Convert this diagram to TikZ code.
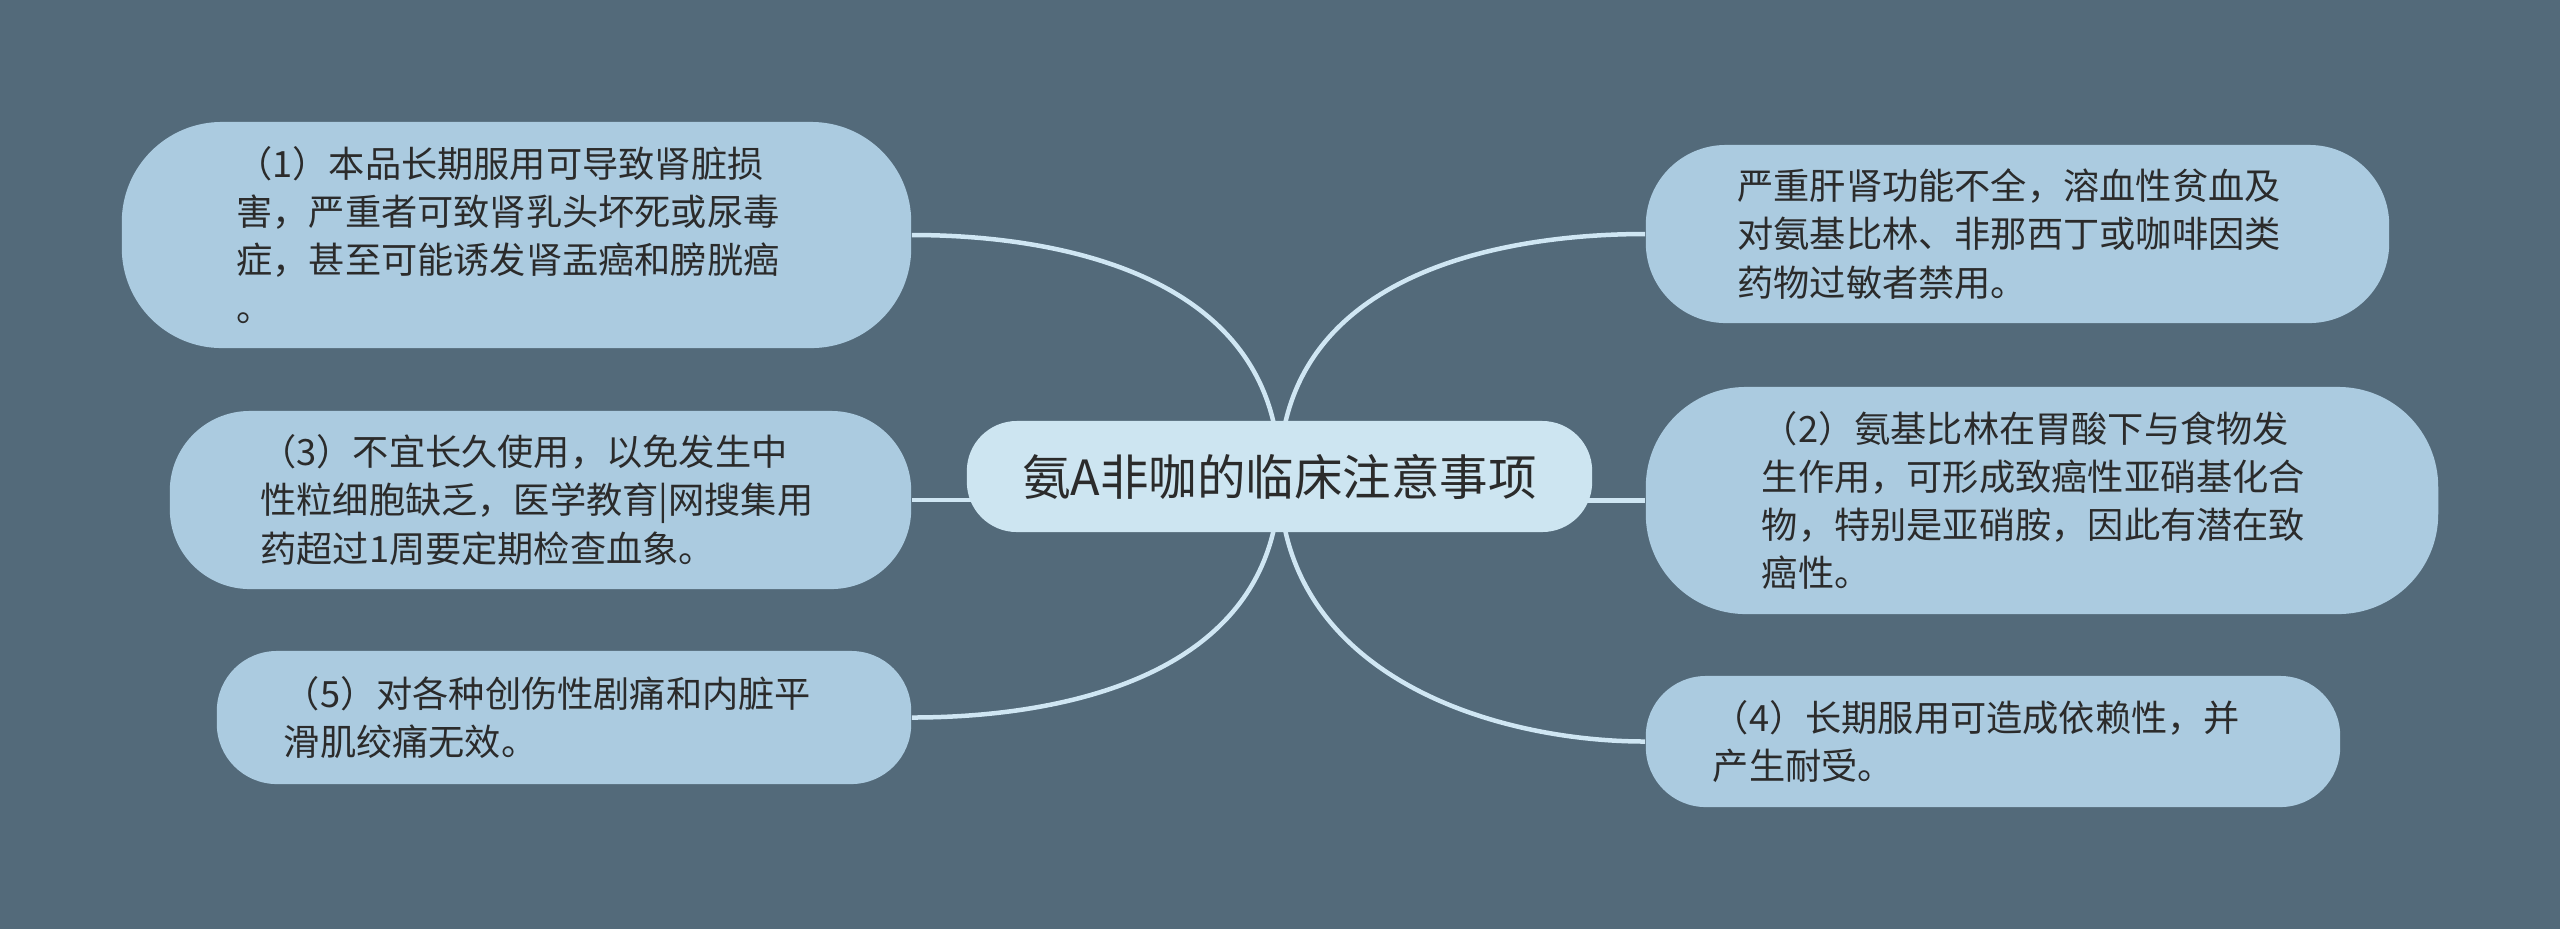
\documentclass[tikz,border=0pt]{standalone}
\usepackage{fontspec}
\setmainfont{Noto Sans CJK SC}
\usepackage{tikz}
\usetikzlibrary{positioning}
\definecolor{canvas}{HTML}{536A7A}
\definecolor{leaffill}{HTML}{ABCBE0}
\definecolor{topicfill}{HTML}{CDE5F1}
\definecolor{branch}{HTML}{CFE6F3}
\definecolor{ink}{HTML}{2B2B2B}
\pgfdeclarelayer{back}
\pgfdeclarelayer{edges}
\pgfsetlayers{back,edges,main}

\begin{document}
\begin{tikzpicture}[x=0.01cm, y=-0.01cm,
  topic/.style={fill=topicfill, text=ink, rounded corners=0.5cm, minimum width=6.25cm, minimum height=1.11cm, inner sep=0pt, font=\fontsize{13.8pt}{16pt}\selectfont},
  leaf/.style={fill=leaffill, text=ink, inner sep=0pt, text width=5.6cm, align=left, font=\fontsize{10.3pt}{13.7pt}\selectfont},
  branch line/.style={draw=branch, line width=0.045cm}]
\useasboundingbox (0,0) rectangle (2560,929);
\begin{pgfonlayer}{back}
\fill[canvas] (0,0) rectangle (2560,929);
\end{pgfonlayer}

\node (centre) [topic] at (1279.5,476.5) {氨A非咖的临床注意事项};

\node (item1) [leaf, minimum width=7.89cm, minimum height=2.26cm, rounded corners=1cm] at (516.5,235)
  {（1）本品长期服用可导致肾脏损\\害，严重者可致肾乳头坏死或尿毒\\症，甚至可能诱发肾盂癌和膀胱癌\\。};
\node (item3) [leaf, minimum width=7.41cm, minimum height=1.78cm, rounded corners=0.8cm] at (540.5,500)
  {（3）不宜长久使用，以免发生中\\性粒细胞缺乏，医学教育|网搜集用\\药超过1周要定期检查血象。};
\node (item5) [leaf, minimum width=6.94cm, minimum height=1.33cm, rounded corners=0.6cm] at (564,717.5)
  {（5）对各种创伤性剧痛和内脏平\\滑肌绞痛无效。};
\node (contra) [leaf, minimum width=7.43cm, minimum height=1.78cm, rounded corners=0.8cm] at (2017.5,234)
  {严重肝肾功能不全，溶血性贫血及\\对氨基比林、非那西丁或咖啡因类\\药物过敏者禁用。};
\node (item2) [leaf, minimum width=7.92cm, minimum height=2.27cm, rounded corners=1cm] at (2042,500.5)
  {（2）氨基比林在胃酸下与食物发\\生作用，可形成致癌性亚硝基化合\\物，特别是亚硝胺，因此有潜在致\\癌性。};
\node (item4) [leaf, minimum width=6.94cm, minimum height=1.31cm, rounded corners=0.6cm] at (1993,741.5)
  {（4）长期服用可造成依赖性，并\\产生耐受。};

\begin{pgfonlayer}{edges}
\draw[branch line] (centre.center) .. controls +(0,-200) and +(150,0) .. (item1.east);
\draw[branch line] (centre.center) .. controls +(0,-200) and +(-150,0) .. (contra.west);
\draw[branch line] (centre.center |- item3.east) -- (item3.east);
\draw[branch line] (centre.center |- item2.west) -- (item2.west);
\draw[branch line] (centre.center) .. controls +(0,200) and +(150,0) .. (item5.east);
\draw[branch line] (centre.center) .. controls +(0,200) and +(-150,0) .. (item4.west);
\end{pgfonlayer}
\end{tikzpicture}
\end{document}
